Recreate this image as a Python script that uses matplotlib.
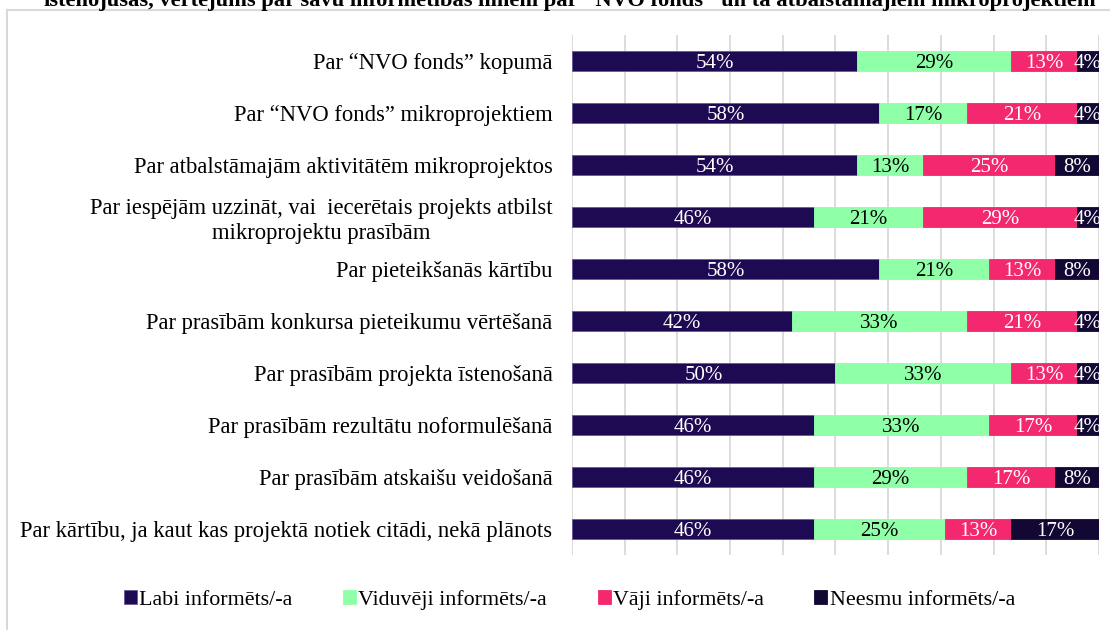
import matplotlib
matplotlib.use("Agg")
import matplotlib.pyplot as plt
from matplotlib.patches import Rectangle
import numpy as np

plt.rcParams['font.family'] = ['Liberation Serif', 'DejaVu Serif']

questions = [
    'Par \u201cNVO fonds\u201d kopumā',
    'Par \u201cNVO fonds\u201d mikroprojektiem',
    'Par atbalstāmajām aktivitātēm mikroprojektos',
    'Par iespējām uzzināt, vai  iecerētais projekts atbilst\nmikroprojektu prasībām',
    'Par pieteikšanās kārtību',
    'Par prasībām konkursa pieteikumu vērtēšanā',
    'Par prasībām projekta īstenošanā',
    'Par prasībām rezultātu noformulēšanā',
    'Par prasībām atskaišu veidošanā',
    'Par kārtību, ja kaut kas projektā notiek citādi, nekā plānots',
]
series = ['Labi informēts/-a', 'Viduvēji informēts/-a', 'Vāji informēts/-a', 'Neesmu informēts/-a']

labi = [54.17, 58.33, 54.17, 45.83, 58.33, 41.67, 50.0, 45.83, 45.83, 45.83]
viduveji = [29.17, 16.67, 12.5, 20.83, 20.83, 33.33, 33.33, 33.33, 29.17, 25.0]
vaji = [12.5, 20.83, 25.0, 29.17, 12.5, 20.83, 12.5, 16.67, 16.67, 12.5]
neesmu = [4.17, 4.17, 8.33, 4.17, 8.33, 4.17, 4.17, 4.17, 8.33, 16.67]

colors = ['#1e0a52', '#8fffa8', '#f4286e', '#130833']
text_colors = ['white', 'black', 'white', 'white']

title = 'īstenojušas, vērtējums par savu informētības līmeni par "NVO fonds" un tā atbalstāmajiem mikroprojektiem'

fig = plt.figure(figsize=(11.1, 6.3), dpi=100)
ax = fig.add_axes([572 / 1110, 1 - 555 / 630, 527 / 1110, 520 / 630])

# light frame of the chart area
fig.patches.append(Rectangle((7 / 1110, -0.05), 1.2, 1 - 10 / 630 + 0.05,
                             transform=fig.transFigure, fill=False,
                             edgecolor='#d9d9d9', linewidth=1.5))

fig.text(0.513, 1 - 6 / 630, title, ha='center', va='baseline',
         fontsize=16.2, fontweight='bold')

y = np.arange(len(questions))
left = np.zeros(len(questions))
for vals, name, c, tc in zip([labi, viduveji, vaji, neesmu], series, colors, text_colors):
    vals = np.array(vals)
    ec = '#6a5a9a' if c == colors[0] else c
    ax.barh(y, vals, left=left, height=0.4, color=c, label=name,
            edgecolor=ec, linewidth=0.6, zorder=3)
    for yi, l, v in zip(y, left, vals):
        ax.text(l + v / 2, yi, '%d%%' % int(v + 0.5), ha='center', va='center_baseline',
                color=tc, fontsize=15, zorder=4)
    left = left + vals

ax.set_xlim(0, 100)
ax.set_ylim(len(questions) - 0.5, -0.5)
ax.set_xticks(np.arange(0, 101, 10))
ax.xaxis.grid(True, color='#d9d9d9', linewidth=1.3, zorder=0)
ax.set_xticklabels([])
ax.tick_params(axis='x', length=0)
ax.tick_params(axis='y', length=0, pad=14)
ax.set_yticks(y)
ax.set_yticklabels(questions, fontsize=16.3, multialignment='center')
for s in ax.spines.values():
    s.set_visible(False)

fig.legend(loc='center', bbox_to_anchor=(0.513, 1 - 600 / 630), ncol=4,
           frameon=False, fontsize=15.8, handlelength=0.6, handleheight=0.6,
           handletextpad=0.1, columnspacing=2.3)

fig.savefig('out.png', dpi=100)
